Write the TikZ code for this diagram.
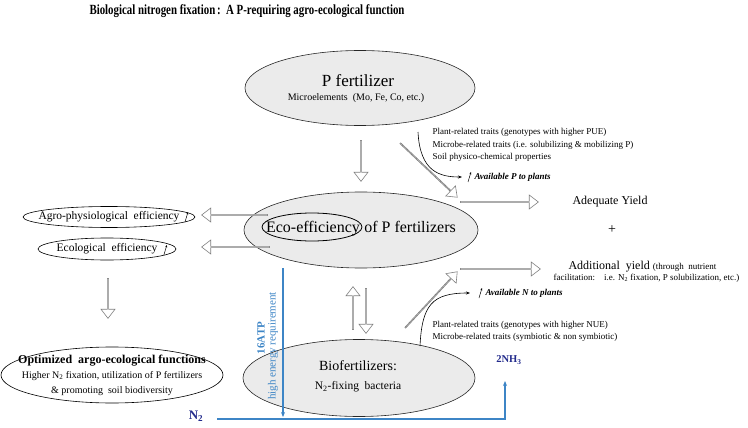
\documentclass[tikz,border=0pt]{standalone}
\usepackage{fontspec}
\setmainfont{Liberation Serif}
\usetikzlibrary{shapes.geometric,shapes.arrows,arrows.meta,positioning,calc}

\definecolor{ellgray}{HTML}{EBEBEB}
\definecolor{atpblue}{HTML}{3D85C6}
\definecolor{navy}{HTML}{232B8C}
\newcommand{\fsz}[2]{\fontsize{#1}{#2}\selectfont}

\tikzset{
  bubble/.style={ellipse, draw=black!85, fill=ellgray, inner sep=0pt, line width=0.6pt},
  blockarrow/.style={single arrow, draw=black!50, fill=white, line width=0.6pt, inner sep=0pt,
    minimum width=14pt, single arrow head extend=3.5pt, single arrow tip angle=75},
  upmark/.style={-{Stealth[length=2.5pt,width=2pt]}, line width=0.5pt},
  curvy/.style={-{Stealth[length=4pt,width=3pt]}, line width=0.6pt},
  blueline/.style={atpblue, line width=1.3pt},
}

\begin{document}
\begin{tikzpicture}[x=1pt, y=-1pt]
\useasboundingbox (0,0) rectangle (748,428);

\node[font=\bfseries\fsz{14}{16}] (title) at (247,11)
  {\scalebox{0.775}[1]{Biological nitrogen fixation\,:\, A P-requiring agro-ecological function}};

% grey ellipses
\node[bubble, minimum width=230pt, minimum height=75pt] (pfert) at (360,88) {};
\node[bubble, minimum width=234pt, minimum height=76pt] (eco) at (361,230) {};
\node[bubble, minimum width=232pt, minimum height=77pt] (bio) at (359,378) {};

\node[font=\fsz{17}{20}] (pftitle) at (358,81) {P fertilizer};
\node[font=\fsz{10}{12}] (pfsub) at (356,98) {Microelements\ \ (Mo, Fe, Co, etc.)};

\node[font=\fsz{16}{19}, inner sep=0pt] (ecoword) at (313,229) {Eco-efficiency};
\node[font=\fsz{16}{19}, inner sep=0pt, base right=4pt of ecoword] (ecorest) {of P fertilizers};
\draw[line width=0.8pt] (312,227) ellipse [x radius=50pt, y radius=14pt];

\node[font=\fsz{14}{17}] (biotitle) at (358,366) {Biofertilizers:};
\node[font=\fsz{11.5}{14}] (biosub) at (358,387) {N\textsubscript{2}-fixing\ \ bacteria};

% left side
\node[font=\fsz{11.5}{13}] (agro) at (109,217) {Agro-physiological\ \ efficiency};
\draw[line width=0.6pt] (agro.center) ellipse [x radius=86pt, y radius=10.5pt];
\draw[upmark] ([xshift=2pt,yshift=-5pt]agro.east) -- ++(3,-10);

\node[font=\fsz{11.5}{13}] (ecol) at (107,249) {Ecological\ \ efficiency};
\draw[line width=0.6pt] (ecol.center) ellipse [x radius=69pt, y radius=11pt];
\draw[upmark] ([xshift=3pt,yshift=-6pt]ecol.east) -- ++(3,-10);

\node[font=\fsz{10}{15}, align=center] (optim) at (112,375)
  {{\bfseries\fsz{12}{15}Optimized\ \ argo-ecological functions}\\
   Higher N\textsubscript{2} fixation,\ utilization of P fertilizers\\
   \&\ promoting\ \ soil biodiversity};
\draw[line width=0.6pt] (optim.center) ellipse [x radius=111pt, y radius=28pt];

% right side
\node[font=\fsz{9}{12.5}, align=left, anchor=west] (ptraits) at (429,145)
  {Plant-related traits (genotypes with higher PUE)\\
   Microbe-related traits (i.e. solubilizing \& mobilizing P)\\
   Soil physico-chemical properties};
\node[font=\bfseries\itshape\fsz{9}{11}, anchor=west] (availP) at (471,177) {Available P to plants};
\draw[upmark] ([xshift=-3pt,yshift=-5pt]availP.west) -- ++(3,-10);
\draw[curvy] (418,132) .. controls (420,172) and (440,177) .. ([xshift=-9pt]availP.west);

\node[font=\fsz{12}{14}, anchor=west] (adequate) at (569,202) {Adequate Yield};
\node[font=\fsz{14}{16}] (plus) at (612,230) {+};
\node[font=\fsz{12}{14}, anchor=west] (addyield) at (565,267)
  {Additional\ \ yield {\fsz{9}{11}(through\ \ nutrient}};
\node[font=\fsz{9}{11}, anchor=west] (facil) at (550,278)
  {facilitation:\quad i.e. N\textsubscript{2} fixation, P solubilization, etc.)};

\node[font=\bfseries\itshape\fsz{9}{11}, anchor=west] (availN) at (482,293) {Available N to plants};
\draw[upmark] ([xshift=-3pt,yshift=-5pt]availN.west) -- ++(3,-10);
\draw[curvy] (420,346) .. controls (422,305) and (432,293) .. ([xshift=-12pt]availN.west);
\node[font=\fsz{9}{12}, align=left, anchor=west] (ntraits) at (429,331)
  {Plant-related traits (genotypes with higher NUE)\\
   Microbe-related traits (symbiotic \& non symbiotic)};

% hollow arrows
\coordinate (pdown-a) at (361,140); \coordinate (pdown-b) at (361,181);
\coordinate (pdiag-a) at (400,143); \coordinate (pdiag-b) at (457,197);
\coordinate (adeq-a) at (460,202);  \coordinate (adeq-b) at (538,202);
\coordinate (addy-a) at (460,269);  \coordinate (addy-b) at (540,269);
\coordinate (ndiag-a) at (405,328); \coordinate (ndiag-b) at (457,272);
\coordinate (edown-a) at (366,288); \coordinate (edown-b) at (366,333);
\coordinate (bup-a) at (353,330);   \coordinate (bup-b) at (353,287);
\coordinate (left1-a) at (268,215); \coordinate (left1-b) at (202,215);
\coordinate (left2-a) at (270,247); \coordinate (left2-b) at (202,247);
\coordinate (opt-a) at (108,278);   \coordinate (opt-b) at (108,318);
\foreach \a in {pdown,pdiag,adeq,addy,ndiag,edown,bup,left1,left2,opt}
  \path let \p1=($(\a-b)-(\a-a)$), \n1={veclen(\x1,\y1)}, \n2={atan2(\y1,\x1)} in
    node[blockarrow, minimum height=\n1, rotate=\n2] (\a) at ($(\a-a)!0.5!(\a-b)$) {};

% nitrogen fixation
\coordinate (atptop) at (283,268);
\coordinate (atpend) at (283,417);
\draw[blueline, -{Stealth[length=5pt,width=4pt]}] (atptop) -- (atpend);
\node[rotate=90, text=atpblue, font=\bfseries\fsz{11}{13}] (atp) at (261,338) {16ATP};
\node[rotate=90, text=atpblue, font=\fsz{11}{13}] (energy) at (273,346) {high energy requirement};

\node[text=navy, font=\bfseries\fsz{13}{15}] (ntwo) at (196,416) {N\textsubscript{2}};
\node[text=navy, font=\bfseries\fsz{10.5}{13}] (ammonia) at (509,360) {2NH\textsubscript{3}};
\coordinate (nstart) at (217,419);
\coordinate (nend) at (505,381);
\draw[blueline, -{Stealth[length=5pt,width=4pt]}] (nstart) -| (nend);
\end{tikzpicture}
\end{document}
